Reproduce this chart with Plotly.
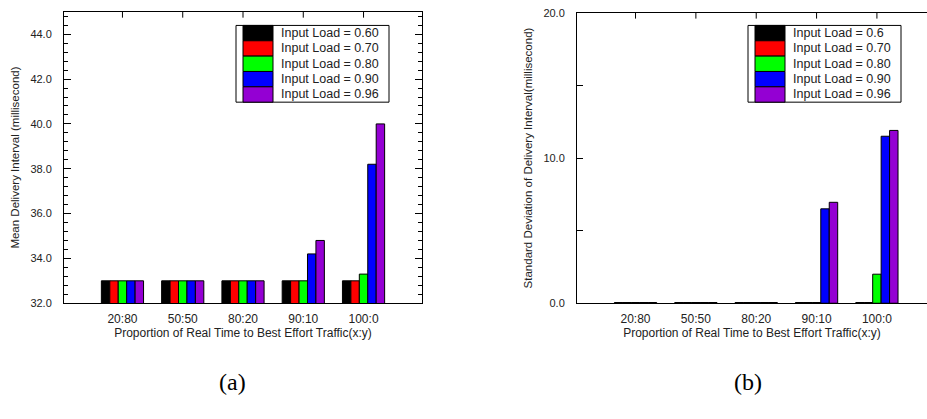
import plotly.graph_objects as go

# ---------------- data ----------------
categories = ["20:80", "50:50", "80:20", "90:10", "100:0"]
cat_pos = [0, 1, 2, 3, 4]
names_a = ["Input Load = 0.60", "Input Load = 0.70", "Input Load = 0.80",
           "Input Load = 0.90", "Input Load = 0.96"]
names_b = ["Input Load = 0.6", "Input Load = 0.70", "Input Load = 0.80",
           "Input Load = 0.90", "Input Load = 0.96"]
colors = ["#000000", "#ff0000", "#00ff00", "#0000ff", "#9400d3"]

mean_060 = [33.0, 33.0, 33.0, 33.0, 33.0]
mean_070 = [33.0, 33.0, 33.0, 33.0, 33.0]
mean_080 = [33.0, 33.0, 33.0, 33.0, 33.3]
mean_090 = [33.0, 33.0, 33.0, 34.2, 38.2]
mean_096 = [33.0, 33.0, 33.0, 34.8, 40.0]

std_060 = [0.05, 0.05, 0.05, 0.05, 0.05]
std_070 = [0.05, 0.05, 0.05, 0.05, 0.05]
std_080 = [0.05, 0.05, 0.05, 0.05, 2.0]
std_090 = [0.05, 0.05, 0.05, 6.5, 11.5]
std_096 = [0.05, 0.05, 0.05, 6.95, 11.9]

mean_series = [mean_060, mean_070, mean_080, mean_090, mean_096]
std_series = [std_060, std_070, std_080, std_090, std_096]

# ---------------- layout helpers ----------------
W, H = 927, 419
def px(x):
    return x / W
def py(y):
    return 1 - y / H

FONT = "Liberation Sans, Arial, sans-serif"

fig = go.Figure()
for name, col, vals in zip(names_a, colors, mean_series):
    fig.add_trace(go.Bar(x=cat_pos, y=vals, name=name, marker=dict(color=col, line=dict(color="#000000", width=1)),
                         xaxis="x", yaxis="y", showlegend=False))
for name, col, vals in zip(names_b, colors, std_series):
    fig.add_trace(go.Bar(x=cat_pos, y=vals, name=name, marker=dict(color=col, line=dict(color="#000000", width=1)),
                         xaxis="x2", yaxis="y2", showlegend=False))

common_x = dict(tickmode="array", tickvals=cat_pos, ticktext=categories, ticks="",
                showline=True, linecolor="#000000", linewidth=1, mirror=True,
                showgrid=False, zeroline=False, tickfont=dict(size=12, color="#222"),
                ticklabelstandoff=4,
                title=dict(text="Proportion of Real Time to Best Effort Traffic(x:y)",
                           font=dict(size=12, color="#222"), standoff=0))

shapes = []
annotations = []

# inward category ticks on the top frame edge (placed through the x scales)
for xr, yr in (("x", "y domain"), ("x2", "y2 domain")):
    for c in cat_pos:
        shapes.append(dict(type="line", xref=xr, yref=yr, x0=c, x1=c, y0=1, y1=0.98,
                           line=dict(color="#000000", width=1)))

def legend(x_box, names):
    top, bottom = 20, 99
    shapes.append(dict(type="rect", xref="paper", yref="paper", x0=px(x_box), x1=px(x_box + 153),
                       y0=py(bottom), y1=py(top), line=dict(color="#000000", width=1), fillcolor="white"))
    row = (bottom - top) / 5
    for i, (nm, col) in enumerate(zip(names, colors)):
        shapes.append(dict(type="rect", xref="paper", yref="paper", x0=px(x_box + 7), x1=px(x_box + 37),
                           y0=py(top + row * (i + 1)), y1=py(top + row * i),
                           line=dict(color="#000000", width=1), fillcolor=col))
        annotations.append(dict(text=nm, xref="paper", yref="paper", x=px(x_box + 43),
                                y=py(top + row * (i + 0.5)), xanchor="left", yanchor="middle",
                                showarrow=False, font=dict(size=12.5, color="#222", family=FONT)))

legend(236, names_a)
legend(748, names_b)

annotations.append(dict(text="(a)", xref="paper", yref="paper", x=px(232), y=py(387),
                        xanchor="center", yanchor="middle", showarrow=False,
                        font=dict(size=24, family="Liberation Serif, DejaVu Serif, serif", color="#000")))
annotations.append(dict(text="(b)", xref="paper", yref="paper", x=px(748), y=py(387),
                        xanchor="center", yanchor="middle", showarrow=False,
                        font=dict(size=24, family="Liberation Serif, DejaVu Serif, serif", color="#000")))

fig.update_layout(
    width=W, height=H, margin=dict(l=0, r=0, t=0, b=0),
    paper_bgcolor="white", plot_bgcolor="white",
    font=dict(family=FONT, color="#222"),
    barmode="group", bargap=0.3, bargroupgap=0,
    showlegend=False,
    xaxis=dict(domain=[px(64), px(422)], range=[-0.97, 4.97], anchor="y", **common_x),
    yaxis=dict(domain=[py(306), py(6)], range=[32, 45], anchor="x",
               tick0=32, dtick=2, tickformat=".1f", ticks="inside", ticklen=7, tickcolor="#000000",
               showline=True, linecolor="#000000", linewidth=1, mirror="ticks",
               showgrid=False, zeroline=False, tickfont=dict(size=11, color="#222"),
               ticklabelstandoff=9,
               minor=dict(tick0=32, dtick=0.4, ticks="inside", ticklen=4, tickcolor="#000000", showgrid=False),
               title=dict(text="Mean Delivery Interval (millisecond)", font=dict(size=11.5, color="#222"), standoff=8)),
    xaxis2=dict(domain=[px(577), 1.0], range=[-0.97, 4.83], anchor="y2", **common_x),
    yaxis2=dict(domain=[py(306), py(7)], range=[0, 20], anchor="x2",
                tick0=0, dtick=10, tickformat=".1f", ticks="inside", ticklen=6, tickcolor="#000000",
                showline=True, linecolor="#000000", linewidth=1, mirror=False,
                showgrid=False, zeroline=False, tickfont=dict(size=11, color="#222"),
                ticklabelstandoff=9,
                minor=dict(tick0=0, dtick=5, ticks="inside", ticklen=6, tickcolor="#000000", showgrid=False),
                title=dict(text="Standard Deviation of Delivery Interval(millisecond)",
                           font=dict(size=11.5, color="#222"), standoff=8)),
    shapes=shapes,
    annotations=annotations,
)

fig.write_html("out.html")
